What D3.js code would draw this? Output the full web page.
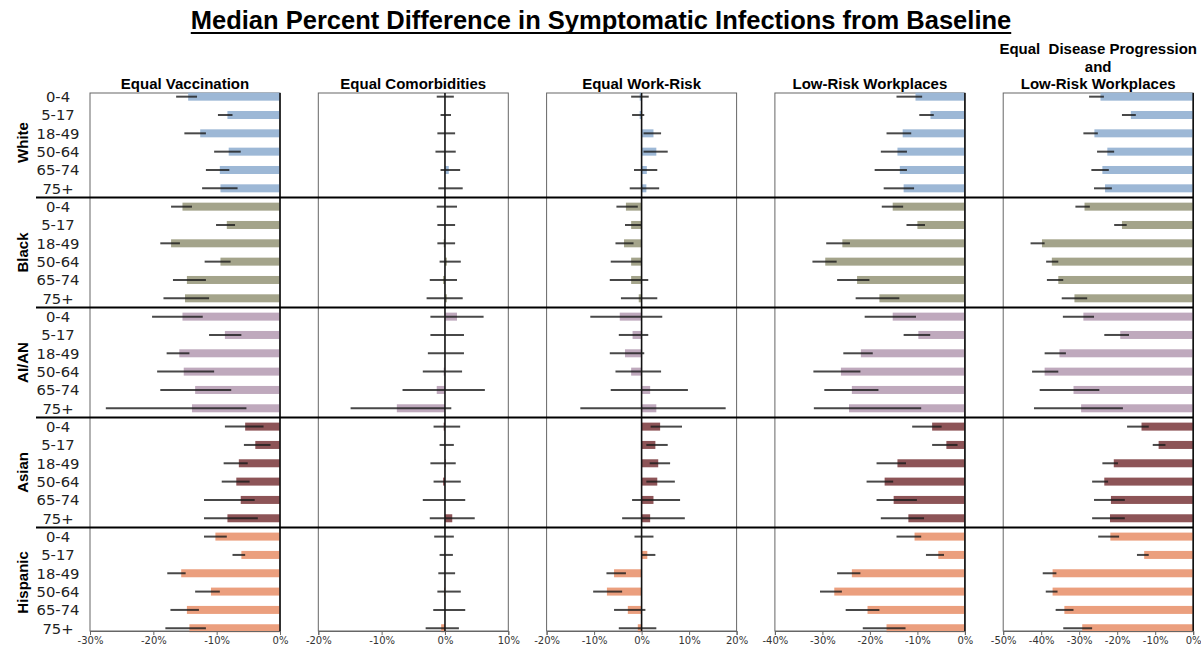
<!DOCTYPE html>
<html><head><meta charset="utf-8">
<script src="https://cdn.jsdelivr.net/npm/d3@7"></script>
<style>body{margin:0;background:#fff}svg{display:block}</style>
</head><body>
<svg id="chart" width="1201" height="649"></svg>
<script>
const title = "Median Percent Difference in Symptomatic Infections from Baseline";
const groups = ["White", "Black", "AI/AN", "Asian", "Hispanic"];
const ages = ["0-4", "5-17", "18-49", "50-64", "65-74", "75+"];
const groupColors = ["#9db8d6", "#a4a48b", "#bfa9bd", "#8d5457", "#eb9f7e"];
const panelTitles = [["Equal Vaccination"], ["Equal Comorbidities"], ["Equal Work-Risk"], ["Low-Risk Workplaces"], ["Equal  Disease Progression", "and", "Low-Risk Workplaces"]];
const panelDomains = [[-30, 0], [-20, 10], [-20, 20], [-40, 0], [-50, 0]];

// Equal Vaccination
const vaccMed = [-14.5,-8.3,-12.6,-8.1,-9.5,-9.4, -15.4,-8.4,-17.2,-9.4,-14.7,-15.0, -15.4,-8.7,-15.9,-15.2,-13.4,-13.9, -5.5,-3.9,-6.5,-6.9,-6.2,-8.3, -10.2,-6.1,-15.6,-10.9,-14.7,-14.3];
const vaccLo  = [-16.4,-9.8,-15.1,-10.4,-11.7,-12.3, -17.2,-10.1,-18.9,-11.9,-16.9,-18.4, -20.2,-11.2,-17.9,-19.4,-18.9,-27.5, -8.7,-5.7,-8.9,-9.2,-12.0,-12.0, -12.0,-7.5,-17.8,-13.4,-17.3,-18.1];
const vaccHi  = [-13.1,-7.5,-11.7,-6.2,-8.0,-6.7, -13.9,-7.1,-15.8,-7.8,-11.7,-11.2, -12.2,-6.1,-14.3,-10.4,-7.7,-5.3, -2.6,-1.5,-5.1,-4.8,-4.0,-3.5, -8.4,-5.5,-14.9,-9.5,-12.8,-11.7];
// Equal Comorbidities
const comoMed = [0,0,0,0,0.6,0, 0,0,-0.2,0.3,-0.3,0.3, 1.9,0,0,-0.2,-1.3,-7.6, -0.2,0,0.1,-0.3,0,1.15, 0,0,0,-0.15,0,-0.6];
const comoLo  = [-1.3,-0.7,-1.2,-1.5,-0.7,-1.05, -1.3,-1.2,-1.2,-0.85,-2.4,-2.9, -2.3,-2.3,-2.7,-3.5,-6.7,-14.9, -1.8,-0.85,-2.3,-1.8,-3.5,-2.4, -1.7,-0.85,-1.05,-1.2,-1.85,-3.05];
const comoHi  = [1.4,0.95,1.6,1.7,2.4,2.8, 1.9,1.6,1.6,2.5,1.9,2.8, 6.1,3.0,3.0,2.7,6.3,1.0, 2.4,1.4,1.7,2.5,3.2,4.7, 1.4,1.25,1.6,2.5,3.2,2.2];
// Equal Work-Risk
const workMed = [-0.4,-0.4,2.5,3.1,1.1,1.0, -3.3,-2.2,-3.7,-2.2,-2.2,-0.6, -4.6,-1.9,-3.5,-2.2,1.8,3.1, 3.9,2.9,3.5,3.3,2.5,1.8, 0,1.2,-5.8,-7.3,-2.9,-0.8];
const workLo  = [-2.2,-2.0,0.4,0.4,-1.6,-2.5, -5.3,-3.5,-5.5,-6.5,-6.7,-4.35, -10.8,-4.8,-6.7,-5.5,-6.5,-12.9, 1.9,1.0,1.7,1.0,-2.0,-4.1, -1.5,0,-7.4,-10.2,-5.8,-4.8];
const workHi  = [1.5,0.56,4.1,5.5,3.3,3.7, -0.8,-0.1,-1.7,-0.1,1.4,3.3, 4.35,1.4,0.56,4.1,9.75,17.7, 8.5,5.5,6.0,7.0,8.1,9.1, 2.5,2.9,-3.3,-4.1,0.8,3.1];
// Low-Risk Workplaces
const lowMed = [-10.4,-7.25,-13.1,-14.2,-13.7,-12.9, -15.2,-10.0,-25.8,-29.4,-22.7,-18.0, -15.2,-9.8,-21.9,-26.1,-23.8,-24.4, -6.9,-3.9,-14.2,-16.9,-15.0,-11.9, -10.6,-5.6,-23.8,-27.5,-20.5,-16.5];
const lowLo  = [-14.4,-9.6,-16.5,-17.7,-19.0,-17.1, -17.5,-12.3,-29.2,-32.1,-26.9,-23.0, -21.1,-12.9,-25.6,-31.9,-29.6,-31.8, -11.1,-6.9,-18.6,-20.7,-18.6,-17.7, -14.4,-8.2,-26.9,-30.5,-25.1,-21.5];
const lowHi  = [-9.0,-6.55,-11.3,-12.2,-12.2,-10.7, -13.0,-8.4,-24.2,-27.0,-20.1,-13.8, -10.3,-7.3,-19.4,-22.0,-18.2,-9.2, -4.9,-1.55,-12.4,-15.1,-10.1,-8.6, -9.2,-4.4,-22.0,-25.9,-18.0,-12.5];
// Equal Disease Progression and Low-Risk Workplaces
const bothMed = [-24.4,-16.4,-26.0,-22.6,-23.9,-23.2, -28.6,-18.75,-39.8,-37.2,-35.5,-31.25, -28.9,-19.2,-35.2,-39.1,-31.5,-29.5, -13.6,-9.1,-20.9,-23.4,-21.65,-21.9, -21.8,-12.9,-37.0,-37.0,-33.9,-29.2];
const bothLo  = [-27.4,-18.75,-28.9,-25.3,-26.8,-26.1, -31.0,-20.8,-42.8,-38.7,-38.5,-34.6, -34.3,-23.4,-39.1,-42.4,-40.4,-41.9, -17.4,-10.65,-23.9,-26.6,-26.1,-26.6, -25.0,-14.8,-39.6,-38.8,-36.2,-34.2];
const bothHi  = [-23.5,-15.1,-25.1,-20.8,-22.2,-21.4, -27.2,-17.5,-39.1,-35.5,-34.2,-27.9, -26.1,-16.9,-33.5,-35.5,-24.7,-18.5, -11.7,-7.3,-19.8,-22.4,-18.0,-18.0, -19.5,-11.7,-36.0,-35.7,-31.5,-26.6];

const panelData = [
  {med: vaccMed, lo: vaccLo, hi: vaccHi},
  {med: comoMed, lo: comoLo, hi: comoHi},
  {med: workMed, lo: workLo, hi: workHi},
  {med: lowMed, lo: lowLo, hi: lowHi},
  {med: bothMed, lo: bothLo, hi: bothHi}
];

const svg = d3.select("#chart");
const plotTop = 93, plotBottom = 631;
const panelLeft0 = 90, panelW = 190, panelStep = 228.3;
const nRows = groups.length * ages.length;
const y = d3.scaleLinear().domain([-0.2, nRows - 0.85]).range([plotTop, plotBottom]);
const barH = 8;

// Title
const t = svg.append("text")
  .attr("x", 601).attr("y", 29)
  .attr("text-anchor", "middle")
  .style("font-family", "'Liberation Sans', Arial, sans-serif")
  .style("font-weight", "bold").style("font-size", "25.5px")
  .text(title);
const tl = t.node().getComputedTextLength();
svg.append("line").attr("x1", 601 - tl/2).attr("x2", 601 + tl/2)
  .attr("y1", 33).attr("y2", 33).attr("stroke", "#000").attr("stroke-width", 1.8);

panelData.forEach((pd, p) => {
  const x0 = panelLeft0 + p * panelStep;
  const x = d3.scaleLinear().domain(panelDomains[p]).range([x0, x0 + panelW]);
  const g = svg.append("g");

  g.append("rect").attr("x", x0).attr("y", plotTop).attr("width", panelW).attr("height", plotBottom - plotTop)
    .attr("fill", "none").attr("stroke", "#666").attr("stroke-width", 1);

  const rows = d3.range(nRows);
  g.selectAll("rect.bar").data(rows).join("rect").attr("class", "bar")
    .attr("x", i => Math.min(x(0), x(pd.med[i])))
    .attr("width", i => Math.abs(x(pd.med[i]) - x(0)))
    .attr("y", i => y(i) - barH/2).attr("height", barH)
    .attr("fill", i => groupColors[Math.floor(i / ages.length)]);

  g.append("line").attr("x1", x(0)).attr("x2", x(0)).attr("y1", plotTop).attr("y2", plotBottom)
    .attr("stroke", "#111").attr("stroke-width", 1.6);

  g.selectAll("line.err").data(rows).join("line").attr("class", "err")
    .attr("x1", i => x(pd.lo[i])).attr("x2", i => x(pd.hi[i]))
    .attr("y1", i => y(i)).attr("y2", i => y(i))
    .attr("stroke", "#1a1a1a").attr("stroke-opacity", 0.8).attr("stroke-width", 2);

  const ax = d3.axisBottom(x).tickValues(d3.range(panelDomains[p][0], panelDomains[p][1] + 1, 10))
    .tickSize(4).tickFormat(d => d + "%");
  const axg = g.append("g").attr("transform", `translate(0,${plotBottom})`).call(ax);
  axg.select(".domain").attr("stroke", "#666");
  axg.selectAll(".tick line").attr("stroke", "#666");
  axg.selectAll(".tick text").attr("y", 6).attr("fill", "#333")
    .style("font-family", "'DejaVu Sans', sans-serif").style("font-size", "10px");

  const lines = panelTitles[p];
  lines.forEach((ln, k) => {
    g.append("text").attr("x", x0 + panelW/2).attr("y", 89 - (lines.length - 1 - k) * 17.5)
      .attr("text-anchor", "middle")
      .style("white-space", "pre")
      .style("font-family", "'Liberation Sans', Arial, sans-serif")
      .style("font-weight", "bold").style("font-size", "15px")
      .text(ln);
  });
});

d3.range(nRows).forEach(i => {
  svg.append("text").attr("x", 58).attr("y", y(i)).attr("dy", "0.36em")
    .attr("text-anchor", "middle").attr("fill", "#222")
    .style("font-family", "'DejaVu Sans', sans-serif").style("font-size", "14.8px")
    .text(ages[i % ages.length]);
});

groups.forEach((gname, gi) => {
  const cy = (y(gi * ages.length) + y(gi * ages.length + ages.length - 1)) / 2;
  svg.append("text").attr("transform", `translate(28,${cy}) rotate(-90)`)
    .attr("text-anchor", "middle")
    .style("font-family", "'Liberation Sans', Arial, sans-serif")
    .style("font-weight", "bold").style("font-size", "15px")
    .text(gname);
});

d3.range(1, groups.length).forEach(gi => {
  const sy = y(gi * ages.length - 0.5);
  svg.append("line").attr("x1", 36).attr("x2", 1193).attr("y1", sy).attr("y2", sy)
    .attr("stroke", "#000").attr("stroke-width", 2);
});
</script>
</body></html>
